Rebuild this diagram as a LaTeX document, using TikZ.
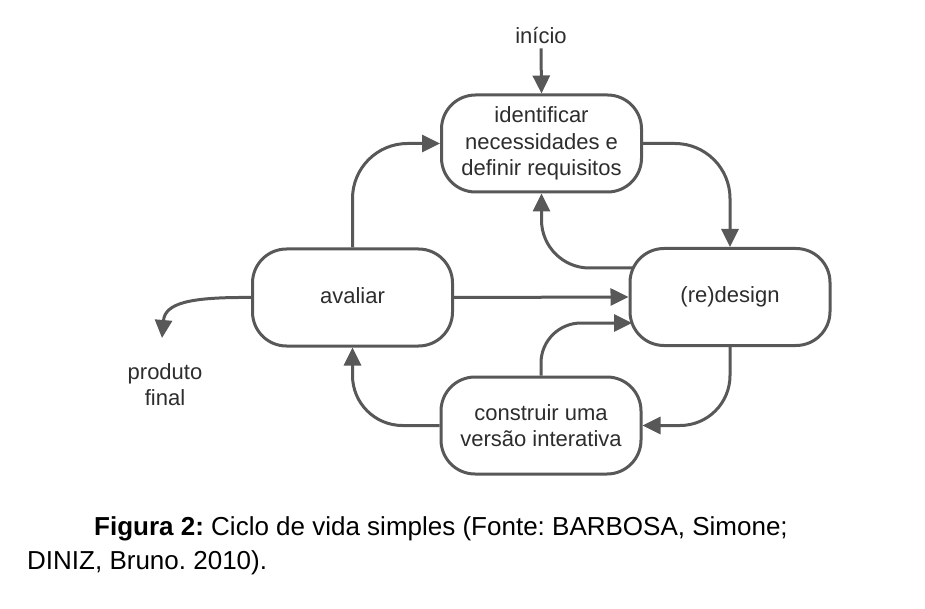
\documentclass[tikz,border=0pt]{standalone}
\usepackage{fontspec}
\setmainfont{Liberation Sans}
\usetikzlibrary{arrows.meta}
\definecolor{linegray}{RGB}{88,88,88}
\definecolor{txtgray}{RGB}{45,45,45}
\frenchspacing
\begin{document}
\begin{tikzpicture}[x=1pt,y=-1pt,
  box/.style={draw=linegray, line width=3pt, rounded corners=34pt, minimum width=200pt, minimum height=97pt, inner sep=0pt, align=center, text=txtgray, font=\fontsize{22}{26.5}\selectfont, fill=white},
  conn/.style={draw=linegray, line width=3pt, -{Triangle[length=18pt,width=17pt]}},
  lbl/.style={text=txtgray, font=\fontsize{22}{26}\selectfont, align=center, inner sep=0pt},
  captxt/.style={anchor=base west, inner sep=0pt, font=\fontsize{26}{34}\selectfont, text=black}]
\useasboundingbox[fill=white] (0,0) rectangle (925,609);

\node[box] (ident) at (541.5,143.5) {identificar\\necessidades e\\definir requisitos};
\node[box] (rd) at (730,297) {\raisebox{-2pt}{(re)design}};
\node[box] (av) at (352.5,297.5) {\raisebox{-2pt}{avaliar\vphantom{(g}}};
\node[box] (con) at (541,425.5) {construir uma\\versão interativa};

\node[lbl] (inicio) at (541,36) {início};
\node[lbl] (prod) at (165,385) {produto\\final};
\coordinate (pftip) at (162,338);

\draw[conn] (inicio.south) ++(0,4) -- (ident.north);
\draw[conn, rounded corners=55pt] (av.north) |- (ident.west);
\draw[conn, rounded corners=55pt] (ident.east) -| (rd.north);
\draw[conn, rounded corners=48pt] ([shift={(4.5pt,29pt)}]rd.west) -| (ident.south);
\draw[conn] (av.east) -- (rd.west);
\draw[conn, rounded corners=50pt] (rd.south) |- (con.east);
\draw[conn, rounded corners=40pt] (con.north) |- ([shift={(3.5pt,-26pt)}]rd.west);
\draw[conn, rounded corners=50pt] (con.west) -| (av.south);
\draw[conn] (av.west) .. controls (190,297) and (165,303) .. (pftip);

\node[captxt] (cap1) at (94,535) {\textbf{Figura 2:} Ciclo de vida simples (Fonte: BARBOSA, Simone;};
\node[captxt] (cap2) at (27,569) {DINIZ, Bruno. 2010).};
\end{tikzpicture}
\end{document}
